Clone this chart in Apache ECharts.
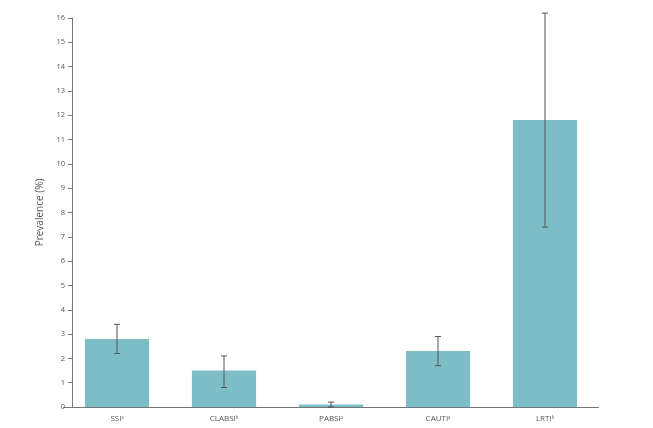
<!DOCTYPE html>
<html>
<head>
<meta charset="utf-8">
<script src="https://cdn.jsdelivr.net/npm/echarts@6/dist/echarts.min.js"></script>
<style>
  html, body { margin: 0; padding: 0; background: #fff; }
  #chart { width: 653px; height: 428px; }
</style>
</head>
<body>
<div id="chart"></div>
<script>
const categories = ['SSIᵃ', 'CLABSIᵇ', 'PABSIᵃ', 'CAUTIᵃ', 'LRTIᵇ']
const prevalence = [2.8, 1.5, 0.1, 2.3, 11.8]
const ciLow = [2.2, 0.8, 0.0, 1.7, 7.4]
const ciHigh = [3.4, 2.1, 0.2, 2.9, 16.2]
const yTicks = [0, 16, 1]

const chart = echarts.init(document.getElementById('chart'))

chart.setOption({
  animation: false,
  textStyle: { fontFamily: 'Open Sans' },
  grid: { left: 63.5, right: 54.5, top: 18, bottom: 21 },
  xAxis: {
    type: 'category',
    data: categories,
    axisLine: { lineStyle: { color: '#777', width: 1 } },
    axisTick: { alignWithLabel: true, length: 4, lineStyle: { color: '#777' } },
    axisLabel: { color: '#555', fontSize: 8, margin: 8 },
  },
  yAxis: {
    type: 'value',
    min: yTicks[0],
    max: yTicks[1],
    interval: yTicks[2],
    offset: -8.5,
    name: 'Prevalence (%)',
    nameLocation: 'middle',
    nameGap: 25,
    nameTextStyle: { color: '#555', fontSize: 10 },
    axisLine: { show: true, lineStyle: { color: '#777', width: 1 } },
    axisTick: { show: true, length: 4, lineStyle: { color: '#777' } },
    axisLabel: { color: '#555', fontSize: 7.5, margin: 7 },
    splitLine: { show: false },
  },
  series: [
    {
      type: 'bar',
      data: prevalence,
      barWidth: '60%',
      itemStyle: { color: '#7dbdc6' },
    },
    {
      type: 'custom',
      data: categories.map((_, i) => [i, ciLow[i], ciHigh[i]]),
      renderItem(params, api) {
        const low = api.coord([api.value(0), api.value(1)])
        const high = api.coord([api.value(0), api.value(2)])
        const cap = 3
        const style = { stroke: '#555', lineWidth: 1 }
        return {
          type: 'group',
          children: [
            { type: 'line', shape: { x1: low[0], y1: low[1], x2: high[0], y2: high[1] }, style },
            { type: 'line', shape: { x1: low[0] - cap, y1: low[1], x2: low[0] + cap, y2: low[1] }, style },
            { type: 'line', shape: { x1: high[0] - cap, y1: high[1], x2: high[0] + cap, y2: high[1] }, style },
          ],
        }
      },
      z: 3,
    },
  ],
})
</script>
</body>
</html>
